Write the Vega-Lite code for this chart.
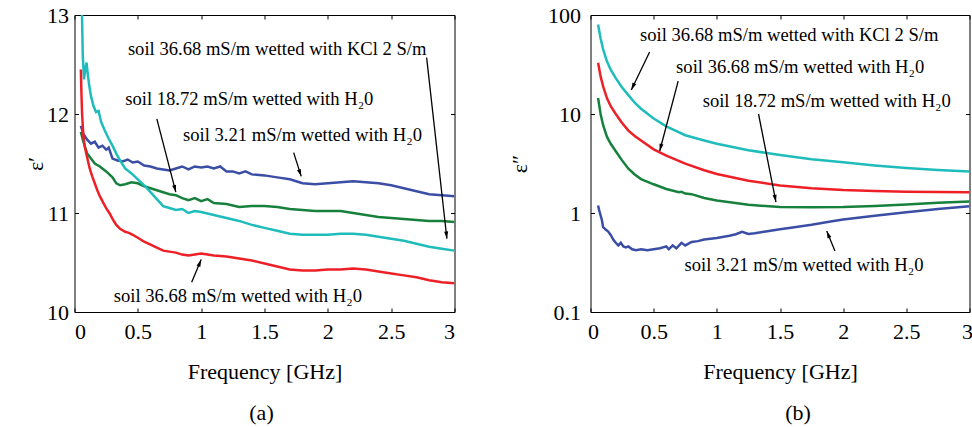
{
  "$schema": "https://vega.github.io/schema/vega-lite/v6.json",
  "padding": {"left": 23.5, "top": 3, "right": 0, "bottom": 0},
  "background": "white",
  "spacing": 52,
  "datasets": {
    "eps1": [
      {"f":0.05,"v":11.88,"s":"3.21"},{"f":0.07,"v":11.80,"s":"3.21"},{"f":0.1,"v":11.74,"s":"3.21"},{"f":0.13,"v":11.70,"s":"3.21"},{"f":0.16,"v":11.72,"s":"3.21"},{"f":0.19,"v":11.66,"s":"3.21"},{"f":0.22,"v":11.68,"s":"3.21"},{"f":0.25,"v":11.64,"s":"3.21"},{"f":0.27,"v":11.66,"s":"3.21"},{"f":0.3,"v":11.55,"s":"3.21"},{"f":0.34,"v":11.53,"s":"3.21"},{"f":0.38,"v":11.52,"s":"3.21"},{"f":0.42,"v":11.54,"s":"3.21"},{"f":0.46,"v":11.51,"s":"3.21"},{"f":0.5,"v":11.52,"s":"3.21"},{"f":0.55,"v":11.48,"s":"3.21"},{"f":0.6,"v":11.47,"s":"3.21"},{"f":0.65,"v":11.45,"s":"3.21"},{"f":0.7,"v":11.44,"s":"3.21"},{"f":0.75,"v":11.43,"s":"3.21"},{"f":0.8,"v":11.45,"s":"3.21"},{"f":0.85,"v":11.47,"s":"3.21"},{"f":0.9,"v":11.44,"s":"3.21"},{"f":0.95,"v":11.47,"s":"3.21"},{"f":1.0,"v":11.46,"s":"3.21"},{"f":1.05,"v":11.47,"s":"3.21"},{"f":1.1,"v":11.45,"s":"3.21"},{"f":1.15,"v":11.47,"s":"3.21"},{"f":1.2,"v":11.42,"s":"3.21"},{"f":1.25,"v":11.42,"s":"3.21"},{"f":1.3,"v":11.40,"s":"3.21"},{"f":1.35,"v":11.42,"s":"3.21"},{"f":1.4,"v":11.39,"s":"3.21"},{"f":1.5,"v":11.38,"s":"3.21"},{"f":1.6,"v":11.36,"s":"3.21"},{"f":1.7,"v":11.34,"s":"3.21"},{"f":1.8,"v":11.30,"s":"3.21"},{"f":1.9,"v":11.29,"s":"3.21"},{"f":2.0,"v":11.30,"s":"3.21"},{"f":2.1,"v":11.31,"s":"3.21"},{"f":2.2,"v":11.32,"s":"3.21"},{"f":2.3,"v":11.31,"s":"3.21"},{"f":2.4,"v":11.30,"s":"3.21"},{"f":2.5,"v":11.28,"s":"3.21"},{"f":2.6,"v":11.25,"s":"3.21"},{"f":2.7,"v":11.22,"s":"3.21"},{"f":2.8,"v":11.19,"s":"3.21"},{"f":2.9,"v":11.18,"s":"3.21"},{"f":3.0,"v":11.17,"s":"3.21"},
      {"f":0.05,"v":11.82,"s":"18.72"},{"f":0.07,"v":11.72,"s":"18.72"},{"f":0.1,"v":11.60,"s":"18.72"},{"f":0.13,"v":11.55,"s":"18.72"},{"f":0.16,"v":11.50,"s":"18.72"},{"f":0.2,"v":11.47,"s":"18.72"},{"f":0.25,"v":11.42,"s":"18.72"},{"f":0.3,"v":11.36,"s":"18.72"},{"f":0.33,"v":11.30,"s":"18.72"},{"f":0.36,"v":11.28,"s":"18.72"},{"f":0.4,"v":11.29,"s":"18.72"},{"f":0.45,"v":11.31,"s":"18.72"},{"f":0.5,"v":11.30,"s":"18.72"},{"f":0.55,"v":11.27,"s":"18.72"},{"f":0.6,"v":11.25,"s":"18.72"},{"f":0.65,"v":11.23,"s":"18.72"},{"f":0.7,"v":11.21,"s":"18.72"},{"f":0.75,"v":11.19,"s":"18.72"},{"f":0.8,"v":11.18,"s":"18.72"},{"f":0.85,"v":11.15,"s":"18.72"},{"f":0.9,"v":11.13,"s":"18.72"},{"f":0.95,"v":11.15,"s":"18.72"},{"f":1.0,"v":11.12,"s":"18.72"},{"f":1.05,"v":11.14,"s":"18.72"},{"f":1.1,"v":11.10,"s":"18.72"},{"f":1.2,"v":11.09,"s":"18.72"},{"f":1.3,"v":11.06,"s":"18.72"},{"f":1.4,"v":11.07,"s":"18.72"},{"f":1.5,"v":11.07,"s":"18.72"},{"f":1.6,"v":11.06,"s":"18.72"},{"f":1.7,"v":11.04,"s":"18.72"},{"f":1.8,"v":11.03,"s":"18.72"},{"f":1.9,"v":11.02,"s":"18.72"},{"f":2.0,"v":11.02,"s":"18.72"},{"f":2.1,"v":11.02,"s":"18.72"},{"f":2.2,"v":11.00,"s":"18.72"},{"f":2.3,"v":10.98,"s":"18.72"},{"f":2.4,"v":10.96,"s":"18.72"},{"f":2.5,"v":10.95,"s":"18.72"},{"f":2.6,"v":10.94,"s":"18.72"},{"f":2.7,"v":10.93,"s":"18.72"},{"f":2.8,"v":10.92,"s":"18.72"},{"f":2.9,"v":10.92,"s":"18.72"},{"f":3.0,"v":10.91,"s":"18.72"},
      {"f":0.055,"v":13.3,"s":"KCl"},{"f":0.065,"v":12.6,"s":"KCl"},{"f":0.075,"v":12.35,"s":"KCl"},{"f":0.085,"v":12.45,"s":"KCl"},{"f":0.095,"v":12.52,"s":"KCl"},{"f":0.105,"v":12.40,"s":"KCl"},{"f":0.115,"v":12.30,"s":"KCl"},{"f":0.13,"v":12.18,"s":"KCl"},{"f":0.15,"v":12.08,"s":"KCl"},{"f":0.17,"v":12.02,"s":"KCl"},{"f":0.19,"v":12.03,"s":"KCl"},{"f":0.21,"v":11.92,"s":"KCl"},{"f":0.24,"v":11.83,"s":"KCl"},{"f":0.27,"v":11.75,"s":"KCl"},{"f":0.3,"v":11.68,"s":"KCl"},{"f":0.33,"v":11.60,"s":"KCl"},{"f":0.36,"v":11.53,"s":"KCl"},{"f":0.4,"v":11.45,"s":"KCl"},{"f":0.45,"v":11.40,"s":"KCl"},{"f":0.5,"v":11.34,"s":"KCl"},{"f":0.55,"v":11.28,"s":"KCl"},{"f":0.6,"v":11.21,"s":"KCl"},{"f":0.65,"v":11.14,"s":"KCl"},{"f":0.7,"v":11.07,"s":"KCl"},{"f":0.75,"v":11.05,"s":"KCl"},{"f":0.8,"v":11.03,"s":"KCl"},{"f":0.85,"v":11.04,"s":"KCl"},{"f":0.9,"v":11.00,"s":"KCl"},{"f":0.95,"v":11.02,"s":"KCl"},{"f":1.0,"v":11.01,"s":"KCl"},{"f":1.1,"v":10.98,"s":"KCl"},{"f":1.2,"v":10.95,"s":"KCl"},{"f":1.3,"v":10.92,"s":"KCl"},{"f":1.4,"v":10.88,"s":"KCl"},{"f":1.5,"v":10.85,"s":"KCl"},{"f":1.6,"v":10.82,"s":"KCl"},{"f":1.7,"v":10.79,"s":"KCl"},{"f":1.8,"v":10.78,"s":"KCl"},{"f":1.9,"v":10.78,"s":"KCl"},{"f":2.0,"v":10.78,"s":"KCl"},{"f":2.1,"v":10.79,"s":"KCl"},{"f":2.2,"v":10.79,"s":"KCl"},{"f":2.3,"v":10.78,"s":"KCl"},{"f":2.4,"v":10.76,"s":"KCl"},{"f":2.5,"v":10.74,"s":"KCl"},{"f":2.6,"v":10.72,"s":"KCl"},{"f":2.7,"v":10.69,"s":"KCl"},{"f":2.8,"v":10.66,"s":"KCl"},{"f":2.9,"v":10.64,"s":"KCl"},{"f":3.0,"v":10.62,"s":"KCl"},
      {"f":0.05,"v":12.45,"s":"36.68"},{"f":0.055,"v":12.2,"s":"36.68"},{"f":0.06,"v":12.0,"s":"36.68"},{"f":0.07,"v":11.78,"s":"36.68"},{"f":0.08,"v":11.68,"s":"36.68"},{"f":0.09,"v":11.62,"s":"36.68"},{"f":0.1,"v":11.56,"s":"36.68"},{"f":0.12,"v":11.45,"s":"36.68"},{"f":0.14,"v":11.37,"s":"36.68"},{"f":0.16,"v":11.30,"s":"36.68"},{"f":0.18,"v":11.23,"s":"36.68"},{"f":0.2,"v":11.17,"s":"36.68"},{"f":0.22,"v":11.12,"s":"36.68"},{"f":0.25,"v":11.05,"s":"36.68"},{"f":0.28,"v":10.99,"s":"36.68"},{"f":0.3,"v":10.94,"s":"36.68"},{"f":0.33,"v":10.88,"s":"36.68"},{"f":0.36,"v":10.84,"s":"36.68"},{"f":0.4,"v":10.81,"s":"36.68"},{"f":0.43,"v":10.80,"s":"36.68"},{"f":0.46,"v":10.78,"s":"36.68"},{"f":0.5,"v":10.75,"s":"36.68"},{"f":0.55,"v":10.71,"s":"36.68"},{"f":0.6,"v":10.68,"s":"36.68"},{"f":0.65,"v":10.65,"s":"36.68"},{"f":0.7,"v":10.62,"s":"36.68"},{"f":0.75,"v":10.61,"s":"36.68"},{"f":0.8,"v":10.60,"s":"36.68"},{"f":0.85,"v":10.58,"s":"36.68"},{"f":0.9,"v":10.57,"s":"36.68"},{"f":0.95,"v":10.58,"s":"36.68"},{"f":1.0,"v":10.59,"s":"36.68"},{"f":1.05,"v":10.58,"s":"36.68"},{"f":1.1,"v":10.57,"s":"36.68"},{"f":1.2,"v":10.56,"s":"36.68"},{"f":1.3,"v":10.54,"s":"36.68"},{"f":1.4,"v":10.52,"s":"36.68"},{"f":1.5,"v":10.49,"s":"36.68"},{"f":1.6,"v":10.46,"s":"36.68"},{"f":1.7,"v":10.43,"s":"36.68"},{"f":1.8,"v":10.42,"s":"36.68"},{"f":1.9,"v":10.42,"s":"36.68"},{"f":2.0,"v":10.43,"s":"36.68"},{"f":2.1,"v":10.43,"s":"36.68"},{"f":2.2,"v":10.44,"s":"36.68"},{"f":2.3,"v":10.43,"s":"36.68"},{"f":2.4,"v":10.41,"s":"36.68"},{"f":2.5,"v":10.39,"s":"36.68"},{"f":2.6,"v":10.37,"s":"36.68"},{"f":2.7,"v":10.35,"s":"36.68"},{"f":2.8,"v":10.32,"s":"36.68"},{"f":2.9,"v":10.30,"s":"36.68"},{"f":3.0,"v":10.29,"s":"36.68"}
    ],
    "eps2": [
      {"f":0.06,"v":80,"s":"KCl"},{"f":0.08,"v":58,"s":"KCl"},{"f":0.1,"v":45,"s":"KCl"},{"f":0.13,"v":34,"s":"KCl"},{"f":0.16,"v":28,"s":"KCl"},{"f":0.2,"v":23,"s":"KCl"},{"f":0.25,"v":18.5,"s":"KCl"},{"f":0.3,"v":15.5,"s":"KCl"},{"f":0.35,"v":13,"s":"KCl"},{"f":0.4,"v":11.3,"s":"KCl"},{"f":0.5,"v":9.0,"s":"KCl"},{"f":0.6,"v":7.5,"s":"KCl"},{"f":0.75,"v":6.1,"s":"KCl"},{"f":0.9,"v":5.4,"s":"KCl"},{"f":1.0,"v":5.0,"s":"KCl"},{"f":1.25,"v":4.3,"s":"KCl"},{"f":1.5,"v":3.85,"s":"KCl"},{"f":1.75,"v":3.5,"s":"KCl"},{"f":2.0,"v":3.25,"s":"KCl"},{"f":2.25,"v":3.02,"s":"KCl"},{"f":2.5,"v":2.85,"s":"KCl"},{"f":2.75,"v":2.72,"s":"KCl"},{"f":3.0,"v":2.62,"s":"KCl"},
      {"f":0.06,"v":33,"s":"36.68"},{"f":0.08,"v":24,"s":"36.68"},{"f":0.1,"v":19,"s":"36.68"},{"f":0.13,"v":14.5,"s":"36.68"},{"f":0.16,"v":12,"s":"36.68"},{"f":0.2,"v":10,"s":"36.68"},{"f":0.25,"v":8.1,"s":"36.68"},{"f":0.3,"v":6.8,"s":"36.68"},{"f":0.35,"v":6.0,"s":"36.68"},{"f":0.4,"v":5.4,"s":"36.68"},{"f":0.5,"v":4.4,"s":"36.68"},{"f":0.6,"v":3.8,"s":"36.68"},{"f":0.75,"v":3.15,"s":"36.68"},{"f":0.9,"v":2.7,"s":"36.68"},{"f":1.0,"v":2.48,"s":"36.68"},{"f":1.25,"v":2.12,"s":"36.68"},{"f":1.5,"v":1.9,"s":"36.68"},{"f":1.75,"v":1.78,"s":"36.68"},{"f":2.0,"v":1.71,"s":"36.68"},{"f":2.25,"v":1.67,"s":"36.68"},{"f":2.5,"v":1.64,"s":"36.68"},{"f":2.75,"v":1.63,"s":"36.68"},{"f":3.0,"v":1.62,"s":"36.68"},
      {"f":0.06,"v":14.5,"s":"18.72"},{"f":0.08,"v":10,"s":"18.72"},{"f":0.1,"v":7.7,"s":"18.72"},{"f":0.13,"v":5.9,"s":"18.72"},{"f":0.16,"v":5.0,"s":"18.72"},{"f":0.2,"v":4.2,"s":"18.72"},{"f":0.25,"v":3.4,"s":"18.72"},{"f":0.3,"v":2.8,"s":"18.72"},{"f":0.35,"v":2.45,"s":"18.72"},{"f":0.4,"v":2.2,"s":"18.72"},{"f":0.5,"v":1.95,"s":"18.72"},{"f":0.6,"v":1.75,"s":"18.72"},{"f":0.7,"v":1.62,"s":"18.72"},{"f":0.72,"v":1.64,"s":"18.72"},{"f":0.75,"v":1.57,"s":"18.72"},{"f":0.8,"v":1.55,"s":"18.72"},{"f":0.9,"v":1.42,"s":"18.72"},{"f":1.0,"v":1.34,"s":"18.72"},{"f":1.25,"v":1.21,"s":"18.72"},{"f":1.5,"v":1.15,"s":"18.72"},{"f":1.75,"v":1.14,"s":"18.72"},{"f":2.0,"v":1.15,"s":"18.72"},{"f":2.25,"v":1.18,"s":"18.72"},{"f":2.5,"v":1.22,"s":"18.72"},{"f":2.75,"v":1.27,"s":"18.72"},{"f":3.0,"v":1.31,"s":"18.72"},
      {"f":0.06,"v":1.19,"s":"3.21"},{"f":0.07,"v":1.05,"s":"3.21"},{"f":0.09,"v":0.85,"s":"3.21"},{"f":0.1,"v":0.72,"s":"3.21"},{"f":0.12,"v":0.68,"s":"3.21"},{"f":0.14,"v":0.65,"s":"3.21"},{"f":0.16,"v":0.60,"s":"3.21"},{"f":0.18,"v":0.54,"s":"3.21"},{"f":0.2,"v":0.50,"s":"3.21"},{"f":0.22,"v":0.47,"s":"3.21"},{"f":0.24,"v":0.50,"s":"3.21"},{"f":0.26,"v":0.46,"s":"3.21"},{"f":0.28,"v":0.45,"s":"3.21"},{"f":0.3,"v":0.46,"s":"3.21"},{"f":0.33,"v":0.43,"s":"3.21"},{"f":0.36,"v":0.42,"s":"3.21"},{"f":0.4,"v":0.43,"s":"3.21"},{"f":0.45,"v":0.42,"s":"3.21"},{"f":0.5,"v":0.43,"s":"3.21"},{"f":0.55,"v":0.44,"s":"3.21"},{"f":0.6,"v":0.46,"s":"3.21"},{"f":0.62,"v":0.43,"s":"3.21"},{"f":0.65,"v":0.47,"s":"3.21"},{"f":0.68,"v":0.44,"s":"3.21"},{"f":0.72,"v":0.50,"s":"3.21"},{"f":0.75,"v":0.47,"s":"3.21"},{"f":0.8,"v":0.51,"s":"3.21"},{"f":0.85,"v":0.52,"s":"3.21"},{"f":0.9,"v":0.54,"s":"3.21"},{"f":1.0,"v":0.56,"s":"3.21"},{"f":1.1,"v":0.59,"s":"3.21"},{"f":1.15,"v":0.61,"s":"3.21"},{"f":1.2,"v":0.645,"s":"3.21"},{"f":1.25,"v":0.615,"s":"3.21"},{"f":1.3,"v":0.625,"s":"3.21"},{"f":1.4,"v":0.655,"s":"3.21"},{"f":1.5,"v":0.685,"s":"3.21"},{"f":1.6,"v":0.715,"s":"3.21"},{"f":1.75,"v":0.76,"s":"3.21"},{"f":1.9,"v":0.82,"s":"3.21"},{"f":2.0,"v":0.86,"s":"3.21"},{"f":2.25,"v":0.94,"s":"3.21"},{"f":2.5,"v":1.02,"s":"3.21"},{"f":2.75,"v":1.10,"s":"3.21"},{"f":3.0,"v":1.17,"s":"3.21"}
    ],
    "notes1": [
      {"f":1.6,"v":12.66,"label":"soil 36.68 mS/m wetted with KCl 2 S/m"},
      {"f":1.38,"v":12.15,"label":"soil 18.72 mS/m wetted with H₂0"},
      {"f":1.80,"v":11.79,"label":"soil 3.21 mS/m wetted with H₂0"},
      {"f":1.29,"v":10.16,"label":"soil 36.68 mS/m wetted with H₂0"}
    ],
    "arrows1": [
      {"f":2.78,"v":12.57,"f2":2.94,"v2":10.74,"heading":174},
      {"f":0.65,"v":11.95,"f2":0.80,"v2":11.21,"heading":166},
      {"f":1.73,"v":11.61,"f2":1.79,"v2":11.37,"heading":161},
      {"f":0.925,"v":10.30,"f2":1.0,"v2":10.53,"heading":22}
    ],
    "notes2": [
      {"f":1.573,"v":62.8,"label":"soil 36.68 mS/m wetted with KCl 2 S/m"},
      {"f":1.66,"v":29.8,"label":"soil 36.68 mS/m wetted with H₂0"},
      {"f":1.87,"v":13.5,"label":"soil 18.72 mS/m wetted with H₂0"},
      {"f":1.69,"v":0.30,"label":"soil 3.21 mS/m wetted with H₂0"}
    ],
    "arrows2": [
      {"f":0.468,"v":42.3,"f2":0.323,"v2":17.5,"heading":-155},
      {"f":0.694,"v":21.5,"f2":0.548,"v2":4.23,"heading":-166},
      {"f":1.33,"v":10,"f2":1.468,"v2":1.29,"heading":169},
      {"f":1.935,"v":0.413,"f2":1.87,"v2":0.658,"heading":-22}
    ]
  },
  "hconcat": [
    {
      "width": 380,
      "height": 297,
      "title": {"text": "(a)", "orient": "bottom", "offset": 21, "dx": -3, "fontSize": 22, "font": "Liberation Serif", "fontWeight": "normal", "color": "black"},
      "layer": [
        {
          "data": {"name": "eps1"},
          "mark": {"type": "line", "strokeWidth": 2.5, "clip": true},
          "encoding": {
            "x": {"field": "f", "type": "quantitative", "scale": {"domain": [0, 3]}, "axis": {"orient": "bottom", "values": [0, 0.5, 1, 1.5, 2, 2.5, 3], "format": "~g", "title": "Frequency [GHz]", "labelPadding": 13, "titlePadding": 19}},
            "y": {"field": "v", "type": "quantitative", "scale": {"domain": [10, 13]}, "axis": {"orient": "left", "values": [10, 11, 12, 13], "format": "~g", "title": "ε′", "labelPadding": 10, "titlePadding": -1}},
            "color": {"field": "s", "type": "nominal", "scale": {"domain": ["3.21", "18.72", "KCl", "36.68"], "range": ["#3b4ea6", "#17803d", "#1fbcbc", "#ee2027"]}, "legend": null}
          }
        },
        {
          "data": {"name": "arrows1"},
          "mark": {"type": "rule", "strokeWidth": 1.3, "color": "black"},
          "encoding": {
            "x": {"field": "f", "type": "quantitative", "axis": null},
            "y": {"field": "v", "type": "quantitative", "axis": null},
            "x2": {"field": "f2"},
            "y2": {"field": "v2"}
          }
        },
        {
          "data": {"name": "arrows1"},
          "mark": {"type": "point", "shape": "M0,0L-0.45,1.6L0.45,1.6Z", "filled": true, "color": "black", "opacity": 1, "size": 81},
          "encoding": {
            "x": {"field": "f2", "type": "quantitative", "axis": null},
            "y": {"field": "v2", "type": "quantitative", "axis": null},
            "angle": {"field": "heading", "type": "quantitative", "scale": null}
          }
        },
        {
          "data": {"name": "notes1"},
          "mark": {"type": "text", "font": "Liberation Serif", "fontSize": 18.6, "color": "black"},
          "encoding": {
            "x": {"field": "f", "type": "quantitative", "axis": null},
            "y": {"field": "v", "type": "quantitative", "axis": null},
            "text": {"field": "label"}
          }
        },
        {
          "data": {"name": "eps1"},
          "mark": {"type": "line", "opacity": 0, "clip": true},
          "encoding": {
            "x": {"field": "f", "type": "quantitative", "axis": {"orient": "top", "values": [0, 0.5, 1, 1.5, 2, 2.5, 3], "labels": false, "title": null}},
            "y": {"field": "v", "type": "quantitative", "axis": {"orient": "right", "values": [10, 11, 12, 13], "labels": false, "title": null}},
            "detail": {"field": "s"}
          }
        }
      ],
      "resolve": {"axis": {"x": "independent", "y": "independent"}}
    },
    {
      "width": 379,
      "height": 297,
      "title": {"text": "(b)", "orient": "bottom", "offset": 21, "dx": 18, "fontSize": 22, "font": "Liberation Serif", "fontWeight": "normal", "color": "black"},
      "layer": [
        {
          "data": {"name": "eps2"},
          "mark": {"type": "line", "strokeWidth": 2.5, "clip": true},
          "encoding": {
            "x": {"field": "f", "type": "quantitative", "scale": {"domain": [0, 3]}, "axis": {"orient": "bottom", "values": [0, 0.5, 1, 1.5, 2, 2.5, 3], "format": "~g", "title": "Frequency [GHz]", "labelPadding": 13, "titlePadding": 19, "labelFlush": true, "labelFlushOffset": 3}},
            "y": {"field": "v", "type": "quantitative", "scale": {"type": "log", "domain": [0.1, 100]}, "axis": {"orient": "left", "values": [0.1, 1, 10, 100], "format": "~g", "title": "ε″", "labelPadding": 14, "titlePadding": 16}},
            "color": {"field": "s", "type": "nominal", "scale": {"domain": ["3.21", "18.72", "KCl", "36.68"], "range": ["#3b4ea6", "#17803d", "#1fbcbc", "#ee2027"]}, "legend": null}
          }
        },
        {
          "data": {"name": "arrows2"},
          "mark": {"type": "rule", "strokeWidth": 1.3, "color": "black"},
          "encoding": {
            "x": {"field": "f", "type": "quantitative", "axis": null},
            "y": {"field": "v", "type": "quantitative", "axis": null},
            "x2": {"field": "f2"},
            "y2": {"field": "v2"}
          }
        },
        {
          "data": {"name": "arrows2"},
          "mark": {"type": "point", "shape": "M0,0L-0.45,1.6L0.45,1.6Z", "filled": true, "color": "black", "opacity": 1, "size": 81},
          "encoding": {
            "x": {"field": "f2", "type": "quantitative", "axis": null},
            "y": {"field": "v2", "type": "quantitative", "axis": null},
            "angle": {"field": "heading", "type": "quantitative", "scale": null}
          }
        },
        {
          "data": {"name": "notes2"},
          "mark": {"type": "text", "font": "Liberation Serif", "fontSize": 18.6, "color": "black"},
          "encoding": {
            "x": {"field": "f", "type": "quantitative", "axis": null},
            "y": {"field": "v", "type": "quantitative", "axis": null},
            "text": {"field": "label"}
          }
        },
        {
          "data": {"name": "eps2"},
          "mark": {"type": "line", "opacity": 0, "clip": true},
          "encoding": {
            "x": {"field": "f", "type": "quantitative", "axis": {"orient": "top", "values": [0, 0.5, 1, 1.5, 2, 2.5, 3], "labels": false, "title": null}},
            "y": {"field": "v", "type": "quantitative", "axis": {"orient": "right", "values": [0.1, 1, 10, 100], "labels": false, "title": null}},
            "detail": {"field": "s"}
          }
        }
      ],
      "resolve": {"axis": {"x": "independent", "y": "independent"}}
    }
  ],
  "config": {
    "view": {"stroke": "black", "strokeWidth": 1},
    "font": "Liberation Serif",
    "axis": {
      "labelFont": "Liberation Serif", "labelFontSize": 22, "labelColor": "black",
      "titleFont": "Liberation Serif", "titleFontSize": 22, "titleFontWeight": "normal", "titleColor": "black",
      "tickColor": "black", "tickSize": -4, "tickWidth": 1, "grid": false, "domain": false
    }
  }
}
